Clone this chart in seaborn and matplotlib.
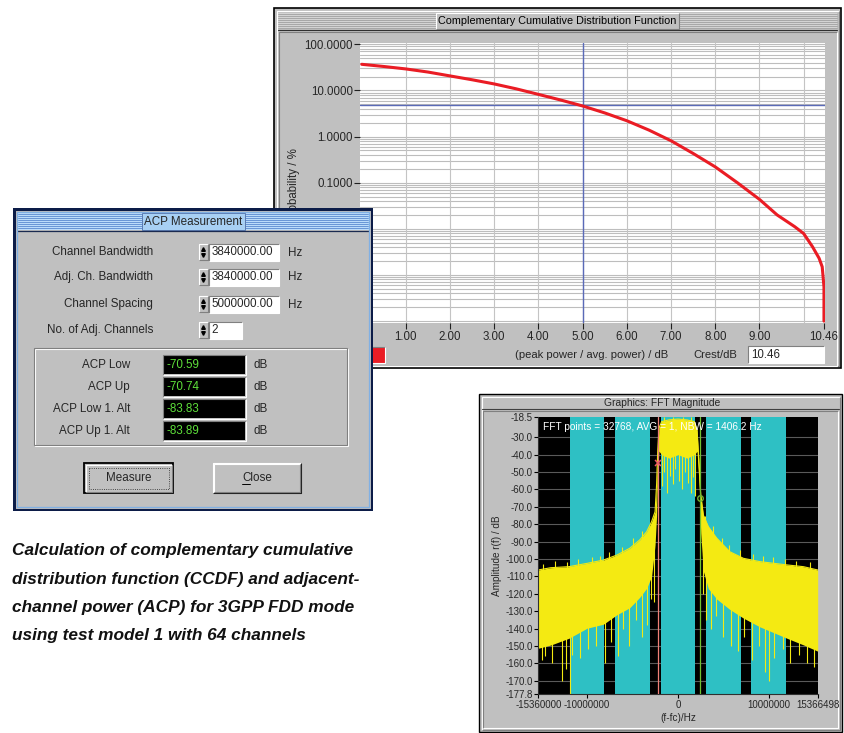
import numpy as np
import matplotlib.pyplot as plt
import seaborn as sns
from matplotlib.patches import Rectangle
from matplotlib.ticker import NullLocator

W, H = 844, 733

# CCDF curve: (peak/avg power in dB, probability in %)
ccdf_db = [0.0, 0.5, 1.0, 1.5, 2.0, 2.5, 3.0, 3.5, 4.0, 4.5, 5.0, 5.5, 6.0, 6.5,
           7.0, 7.5, 8.0, 8.5, 9.0, 9.4, 9.8, 10.0, 10.2, 10.35, 10.42, 10.46, 10.46]
ccdf_pct = [36.8, 33.0, 29.2, 25.0, 20.6, 17.0, 13.8, 10.8, 8.2, 6.2, 4.6, 3.25, 2.2, 1.38,
            0.81, 0.43, 0.22, 0.10, 0.0435, 0.020, 0.0111, 0.0079, 0.0041, 0.0023, 0.0015,
            0.00055, 0.0001]
crest_db = 10.46
cursor_db = 5.0
cursor_pct = 4.75
ccdf_xticks = [0, 1, 2, 3, 4, 5, 6, 7, 8, 9, 10.46]
ccdf_yticks = [0.0001, 0.001, 0.01, 0.1, 1, 10, 100]

# ACP dialog contents
setting_labels = ['Channel Bandwidth', 'Adj. Ch. Bandwidth', 'Channel Spacing', 'No. of Adj. Channels']
setting_values = ['3840000.00', '3840000.00', '5000000.00', '2']
setting_units = ['Hz', 'Hz', 'Hz', '']
acp_labels = ['ACP Low', 'ACP Up', 'ACP Low 1. Alt', 'ACP Up 1. Alt']
acp_values = [-70.59, -70.74, -83.83, -83.89]

# FFT magnitude: envelope of the yellow trace (MHz, dB)
fft_f = [-15.36, -14.0, -12.0, -10.0, -8.2, -6.7, -5.3, -4.2, -3.44, -2.9, -2.52, -2.35,
         -2.23, -2.09, -1.8, -1.0, 0.0, 1.0, 1.8, 2.1, 2.35, 2.5, 2.79, 3.34, 4.26, 5.7,
         7.2, 9.0, 12.0, 13.8, 15.366]
fft_upper = [-106.3, -105.0, -104.4, -102.5, -100.6, -97.7, -93.8, -89.0, -84.3, -78.5,
             -72.8, -57.0, -38.0, -24.8, -21.0, -20.0, -19.5, -20.0, -21.0, -26.0, -47.8,
             -63.0, -74.7, -81.4, -88.0, -95.8, -99.6, -101.5, -103.4, -104.4, -106.3]
fft_lower = [-151.3, -149.5, -145.6, -139.8, -137.5, -132.0, -128.0, -122.0, -116.8, -110.0,
             -92.0, -75.0, -47.8, -38.0, -40.0, -42.0, -40.0, -42.0, -40.0, -38.0, -60.0,
             -85.0, -107.0, -117.0, -123.0, -129.0, -134.0, -139.0, -145.6, -149.4, -153.0]
# downward spikes below the dense part of the trace (MHz, lowest dB)
spike_f = [-15.0, -14.6, -13.9, -12.7, -12.3, -11.9, -11.6, -10.8, -9.9, -9.0, -8.0, -7.4,
           -6.6, -6.0, -5.4, -4.6, -4.0, -3.4, -3.0, -2.6,
           -1.8, -1.5, -1.2, -0.9, -0.6, -0.3, 0.1, 0.4, 0.8, 1.1, 1.4, 1.7, 1.9,
           2.7, 3.1, 3.6, 4.2, 5.0, 5.8, 6.6, 7.3, 8.1, 8.9, 9.6, 10.0, 10.6, 11.5, 12.3,
           13.3, 14.2, 15.0]
spike_lo = [-158, -156, -160, -170, -163, -177.8, -155, -157, -152, -150, -160, -148,
            -156, -140, -150, -135, -145, -138, -123, -125,
            -58, -50, -62, -52, -57, -48, -55, -60, -50, -56, -62, -53, -64,
            -120, -135, -140, -133, -145, -150, -153, -145, -158, -150, -165, -170, -157,
            -152, -160, -155, -160, -162]
# upward spikes on the top edge of the trace (MHz, highest dB)
peak_f = [-14.8, -13.5, -12.2, -11.0, -9.5, -8.6, -7.6, -6.2, -5.0, -4.0, -1.5, -0.5,
          0.6, 1.4, 3.0, 3.9, 4.8, 5.6, 6.8, 8.2, 9.3, 10.5, 11.8, 13.0, 14.5]
peak_hi = [-103, -101, -102, -100, -99, -98, -96, -93, -88, -84, -18.5, -18.5,
           -18.5, -18.5, -75, -81, -88, -92, -95, -97, -98, -99, -100, -101, -102]
band_centers = [-10e6, -5e6, 0.0, 5e6, 10e6]
band_width = 3.84e6
marker_lo = (-2.22e6, -44.6)
marker_up = (2.42e6, -64.7)
fft_yticks = [-18.5, -30, -40, -50, -60, -70, -80, -90, -100, -110, -120, -130, -140,
              -150, -160, -170, -177.8]
fft_xticks = [-15360000, -10000000, 0, 10000000, 15366498]

caption = ['Calculation of complementary cumulative',
           'distribution function (CCDF) and adjacent-',
           'channel power (ACP) for 3GPP FDD mode',
           'using test model 1 with 64 channels']

GRAY = '#c0c0c0'
CYAN = '#2ec0c4'
YELLOW = '#f4ea12'
RED = '#ea1c24'

sns.set_theme(style='white')
plt.rcParams['font.family'] = ['Liberation Sans', 'DejaVu Sans']

fig = plt.figure(figsize=(W / 100, H / 100), dpi=100)
fig.patch.set_facecolor('white')


def px_axes(x0, y0, x1, y1, z):
    return fig.add_axes([x0 / W, 1 - y1 / H, (x1 - x0) / W, (y1 - y0) / H], zorder=z)


def rect(ax, x0, y0, x1, y1, fc, ec='none', lw=0, z=1, ls='-'):
    ax.add_patch(Rectangle((x0, y0), x1 - x0, y1 - y0, facecolor=fc, edgecolor=ec,
                           linewidth=lw, zorder=z, linestyle=ls))


def bevel(ax, x0, y0, x1, y1, sunken=False, z=2, light='white', dark='#808080'):
    if sunken:
        light, dark = dark, light
    ax.plot([x0, x0, x1], [y1, y0, y0], color=light, lw=0.8, zorder=z, solid_capstyle='butt')
    ax.plot([x0, x1, x1], [y1, y1, y0], color=dark, lw=0.8, zorder=z, solid_capstyle='butt')


def stripes(ax, x0, x1, y0, y1, color, z=2):
    for y in np.arange(y0, y1, 2.0):
        ax.plot([x0, x1], [y, y], color=color, lw=0.6, zorder=z)


# ---------- background layer (window frames, captions) ----------
ax_bg = px_axes(0, 0, W, H, 0)
ax_bg.set_xlim(0, W)
ax_bg.set_ylim(H, 0)
ax_bg.axis('off')

# CCDF window
rect(ax_bg, 274, 8, 841, 368, GRAY, ec='black', lw=1.2)
bevel(ax_bg, 276.5, 10.5, 838.5, 365.5)
rect(ax_bg, 278, 13, 837, 29, '#d4d4d4')
stripes(ax_bg, 278, 837, 14, 29, '#a0a0a0')
rect(ax_bg, 436, 13, 679, 29, GRAY, z=3)
bevel(ax_bg, 436, 13, 679, 29, z=4)
ax_bg.text(557.5, 21.5, 'Complementary Cumulative Distribution Function', ha='center', va='center',
           fontsize=7.8, color='black', zorder=5)
ax_bg.plot([278, 837], [30, 30], color='#303030', lw=0.8, zorder=3)
bevel(ax_bg, 279, 32, 837, 366, sunken=True)
ax_bg.text(294, 185, 'Probability / %', rotation=90, ha='center', va='center', fontsize=8.3)
ax_bg.text(592, 354.5, '(peak power / avg. power) / dB', ha='center', va='center', fontsize=8.1)
ax_bg.text(715.6, 354.5, 'Crest/dB', ha='center', va='center', fontsize=8.1)
rect(ax_bg, 748, 346, 824, 363, 'white', z=2)
bevel(ax_bg, 748, 346, 824, 363, sunken=True, z=3)
ax_bg.text(751, 354.5, f'{crest_db:.2f}', ha='left', va='center', fontsize=8.3, zorder=4)
rect(ax_bg, 360, 347, 385, 363, RED, z=2)
bevel(ax_bg, 360, 347, 385, 363, sunken=True, z=3)

# FFT window
rect(ax_bg, 479, 394, 842, 732, GRAY, ec='black', lw=1.0)
bevel(ax_bg, 481.5, 396.5, 839.5, 729.5)
ax_bg.text(662, 402.5, 'Graphics: FFT Magnitude', ha='center', va='center', fontsize=7.4)
ax_bg.plot([482, 839], [409, 409], color='#404040', lw=0.8, zorder=3)
bevel(ax_bg, 483, 411, 838, 728, sunken=True)
ax_bg.text(497, 556, 'Amplitude r(f) / dB', rotation=90, ha='center', va='center', fontsize=7.2)
ax_bg.text(678.7, 718, '(f-fc)/Hz', ha='center', va='center', fontsize=7.2)

# caption
for i, line in enumerate(caption):
    ax_bg.text(12, 551 + 28.2 * i, line, ha='left', va='center', fontsize=12.4,
               family=['Liberation Sans Narrow', 'Liberation Sans'], weight='bold',
               style='italic', color='#111111')

# ---------- CCDF plot ----------
ax_c = px_axes(360.4, 43.3, 825.3, 323, 1)
ax_c.set_facecolor('white')
ax_c.set_yscale('log')
for dec in [1e-4, 1e-3, 1e-2, 1e-1, 1, 10]:
    for m in range(1, 10):
        ax_c.axhline(m * dec, color='#bdbdbd', lw=0.8, zorder=0)
ax_c.axhline(100, color='#bdbdbd', lw=0.8, zorder=0)
for xv in range(1, 11):
    ax_c.axvline(xv, color='#c4c4c4', lw=0.8, zorder=0)
ax_c.axvline(cursor_db, color='#5a6ab8', lw=1.0, zorder=1)
ax_c.axhline(cursor_pct, color='#5a6ab8', lw=1.0, zorder=1)
sns.lineplot(x=ccdf_db, y=ccdf_pct, ax=ax_c, color=RED, lw=2.2, estimator=None, sort=False, zorder=2)
ax_c.set_xlim(-0.03, 10.49)
ax_c.set_ylim(9.1e-5, 105)
ax_c.set_yticks(ccdf_yticks)
ax_c.set_yticklabels([f'{v:.4f}' for v in ccdf_yticks])
ax_c.yaxis.set_minor_locator(NullLocator())
ax_c.set_xticks(ccdf_xticks)
ax_c.set_xticklabels([f'{v:.2f}' for v in ccdf_xticks])
ax_c.tick_params(direction='out', length=4, width=0.8, color='#202020', labelsize=8.3, pad=1.5,
                 left=True, bottom=True)
for s in ax_c.spines.values():
    s.set_visible(False)
ax_c.set_xlabel('')
ax_c.set_ylabel('')

# ---------- FFT plot ----------
ax_f = px_axes(538.3, 417.3, 817.7, 694.3, 1)
ax_f.set_facecolor('black')
for yv in fft_yticks[1:-1]:
    ax_f.axhline(yv, color='#5a5a5a', lw=0.8, zorder=0.5)
for c in band_centers:
    ax_f.axvspan(c - band_width / 2, c + band_width / 2, color=CYAN, lw=0, zorder=1)
f_hz = np.array(fft_f) * 1e6
ax_f.fill_between(f_hz, fft_lower, fft_upper, color=YELLOW, lw=0, zorder=2)
sns.lineplot(x=f_hz, y=fft_upper, ax=ax_f, color=YELLOW, lw=0.8, estimator=None, sort=False, zorder=2)
sp_hz = np.array(spike_f) * 1e6
ax_f.vlines(sp_hz, spike_lo, np.interp(sp_hz, f_hz, fft_lower) + 3, color=YELLOW, lw=0.8, zorder=2)
pk_hz = np.array(peak_f) * 1e6
ax_f.vlines(pk_hz, np.interp(pk_hz, f_hz, fft_upper) - 3, peak_hi, color=YELLOW, lw=0.8, zorder=2)
ax_f.axvline(marker_lo[0], color='#f08078', lw=0.9, zorder=3)
ax_f.axvline(marker_up[0], color='#70c030', lw=0.9, zorder=3)
ax_f.plot(*marker_lo, marker='x', color='#f05868', ms=4, mew=1.1, zorder=4)
ax_f.plot(*marker_up, marker='o', mfc='none', mec='#70b030', ms=4, mew=1.0, zorder=4)
ax_f.text(0.018, 0.965, 'FFT points = 32768, AVG = 1, NBW = 1406.2 Hz', transform=ax_f.transAxes,
          ha='left', va='center', color='white', fontsize=7.3, zorder=5)
ax_f.set_xlim(fft_xticks[0], fft_xticks[-1])
ax_f.set_ylim(fft_yticks[-1], fft_yticks[0])
ax_f.set_yticks(fft_yticks)
ax_f.set_yticklabels([f'{v:.1f}' for v in fft_yticks])
ax_f.set_xticks(fft_xticks)
ax_f.set_xticklabels([str(v) for v in fft_xticks])
ax_f.tick_params(direction='out', length=3, width=0.8, color='black', labelsize=7.0, pad=1,
                 left=True, bottom=True)
for side in ['top', 'right']:
    ax_f.spines[side].set_visible(False)
for side in ['left', 'bottom']:
    ax_f.spines[side].set_color('#303030')
    ax_f.spines[side].set_linewidth(0.8)
ax_f.set_xlabel('')
ax_f.set_ylabel('')

# ---------- ACP dialog (on top) ----------
ax_d = px_axes(13, 208, 373, 511, 3)
ax_d.set_xlim(13, 373)
ax_d.set_ylim(511, 208)
ax_d.axis('off')
rect(ax_d, 13, 208, 373, 511, GRAY, z=0)
ax_d.add_patch(Rectangle((14.3, 209.3), 357.4, 300.4, fill=False, ec='#0c1c48', lw=2.2, zorder=5))
ax_d.add_patch(Rectangle((16.6, 211.6), 352.8, 295.8, fill=False, ec='#80b0e4', lw=0.9, zorder=5))
rect(ax_d, 17, 213, 369, 230, '#bcdcfa', z=1)
stripes(ax_d, 18, 368, 214, 230, '#5a8ad0')
rect(ax_d, 142, 213, 245, 230, '#a8d0f4', ec='#5a7ab0', lw=0.7, z=3)
ax_d.text(193.5, 221.8, 'ACP Measurement', ha='center', va='center', fontsize=8.4, zorder=4)
ax_d.plot([17, 369], [230.6, 230.6], color='#1a2a50', lw=0.9, zorder=4)

rows_y = [252, 277, 304, 330]
for y, lab, val, unit in zip(rows_y, setting_labels, setting_values, setting_units):
    ax_d.text(153, y, lab, ha='right', va='center', fontsize=8.4)
    bevel(ax_d, 199, y - 8, 207.5, y + 8)
    ax_d.plot(203.2, y - 3, marker='^', color='black', ms=2.6, zorder=3)
    ax_d.plot(203.2, y + 3, marker='v', color='black', ms=2.6, zorder=3)
    x1 = 279 if unit else 242
    rect(ax_d, 209, y - 8.5, x1, y + 8.5, 'white', z=2)
    bevel(ax_d, 209, y - 8.5, x1, y + 8.5, sunken=True, z=3)
    ax_d.text(211.5, y + 0.3, val, ha='left', va='center', fontsize=8.4, zorder=4)
    if unit:
        ax_d.text(288, y + 0.5, unit, ha='left', va='center', fontsize=8.4)

ax_d.add_patch(Rectangle((34, 348), 313, 97, fill=False, ec='#808080', lw=0.8, zorder=2))
ax_d.add_patch(Rectangle((35, 349), 313, 97, fill=False, ec='white', lw=0.8, zorder=1))
acp_y = [365, 387, 409, 431]
for y, lab, val in zip(acp_y, acp_labels, acp_values):
    ax_d.text(130, y, lab, ha='right', va='center', fontsize=8.4)
    rect(ax_d, 164, y - 9, 245, y + 9, 'black', z=2)
    bevel(ax_d, 163, y - 10, 246, y + 10, sunken=True, z=3)
    ax_d.text(166.5, y + 0.3, f'{val:.2f}', ha='left', va='center', fontsize=8.4, color='#5ee03a', zorder=4)
    ax_d.text(253, y + 0.3, 'dB', ha='left', va='center', fontsize=8.4)

# buttons
rect(ax_d, 84, 463, 173, 493, GRAY, ec='black', lw=1.3, z=2)
bevel(ax_d, 85.5, 464.5, 171.5, 491.5, z=3)
ax_d.add_patch(Rectangle((88.5, 467.5), 80, 21, fill=False, ec='#202020', lw=0.6, ls=':', zorder=4))
ax_d.text(128.5, 478.3, 'Measure', ha='center', va='center', fontsize=8.4, zorder=5)
rect(ax_d, 213, 463, 301, 493, GRAY, z=2)
bevel(ax_d, 213, 463, 300.5, 492.5, z=3, dark='#202020')
bevel(ax_d, 214, 464, 299.5, 491.5, z=3)
ax_d.text(257, 478.3, 'Close', ha='center', va='center', fontsize=8.4, zorder=5)
ax_d.plot([242.3, 250.4], [483.8, 483.8], color='black', lw=0.7, zorder=5)

fig.savefig('out.png', dpi=100, facecolor='white')
